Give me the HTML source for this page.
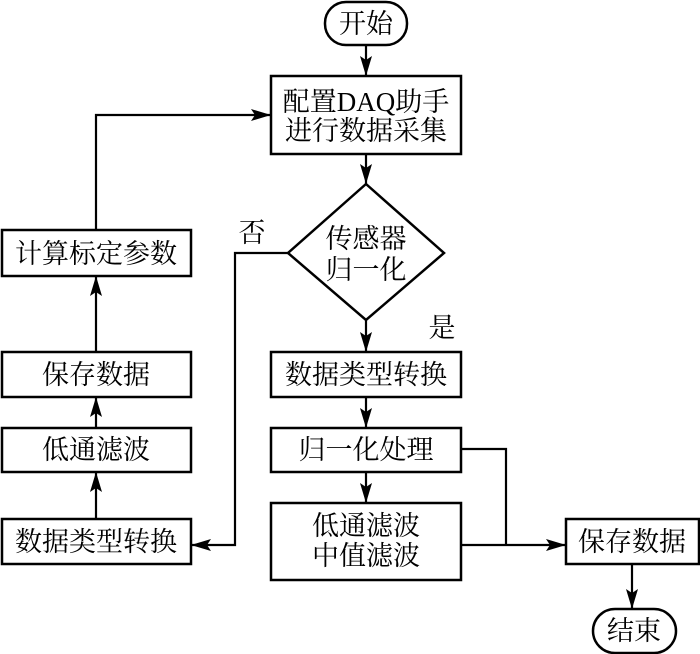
<!DOCTYPE html>
<html><head><meta charset="utf-8"><style>
html,body{margin:0;padding:0;background:#fff;}
svg{display:block;}
text{font-family:"Liberation Serif","Noto Serif CJK SC",serif;font-size:27px;fill:#000;text-anchor:middle;dominant-baseline:central;}
</style></head><body>
<svg width="700" height="654" viewBox="0 0 700 654" xmlns="http://www.w3.org/2000/svg">
<defs><marker id="a" markerWidth="10" markerHeight="10" refX="9" refY="5" orient="auto" markerUnits="userSpaceOnUse"><path d="M0,0 L10,5 L0,10 Z" fill="#000"/></marker>
<marker id="b" viewBox="0 0 20 12" markerWidth="20" markerHeight="12" refX="20" refY="6" orient="auto" markerUnits="userSpaceOnUse"><path d="M0,0 L20,6 L0,12 L4,6 Z" fill="#000"/></marker></defs>
<g fill="none" stroke="#000" stroke-width="2.5">
<rect x="325" y="2" width="82" height="43" rx="21"/>
<rect x="271" y="76" width="190" height="78"/>
<polygon points="366,184 444,253 366,320 288,253"/>
<rect x="271" y="352" width="190" height="45"/>
<rect x="271" y="428" width="190" height="44"/>
<rect x="271" y="503" width="190" height="77"/>
<rect x="566" y="519" width="133" height="45"/>
<rect x="593" y="609" width="83" height="44" rx="22"/>
<rect x="2" y="230" width="189" height="46"/>
<rect x="2" y="352" width="189" height="45"/>
<rect x="2" y="428" width="189" height="44"/>
<rect x="2" y="519" width="189" height="45"/>
</g>
<g fill="none" stroke="#000" stroke-width="2.2">
<line x1="366" y1="45" x2="366" y2="76" marker-end="url(#b)"/>
<line x1="366" y1="154" x2="366" y2="184" marker-end="url(#b)"/>
<line x1="366" y1="320" x2="366" y2="352" marker-end="url(#b)"/>
<line x1="366" y1="397" x2="366" y2="428" marker-end="url(#b)"/>
<line x1="366" y1="472" x2="366" y2="503" marker-end="url(#b)"/>
<line x1="632" y1="564" x2="632" y2="609" marker-end="url(#b)"/>
<polyline points="96,230 96,115 271,115" marker-end="url(#b)"/>
<line x1="96" y1="352" x2="96" y2="276" marker-end="url(#b)"/>
<line x1="96" y1="428" x2="96" y2="397" marker-end="url(#b)"/>
<line x1="96" y1="519" x2="96" y2="472" marker-end="url(#b)"/>
<polyline points="288,253 235,253 235,545 191,545" marker-end="url(#b)"/>
<polyline points="461,449 506,449 506,545"/>
<line x1="461" y1="545" x2="566" y2="545" marker-end="url(#b)"/>
</g>
<text x="366" y="24">开始</text>
<text x="366" y="102">配置DAQ助手</text>
<text x="366" y="131">进行数据采集</text>
<text x="366" y="239">传感器</text>
<text x="366" y="270">归一化</text>
<text x="252" y="233">否</text>
<text x="442" y="328">是</text>
<text x="366" y="375">数据类型转换</text>
<text x="366" y="450">归一化处理</text>
<text x="366" y="526">低通滤波</text>
<text x="366" y="556">中值滤波</text>
<text x="632" y="542">保存数据</text>
<text x="634" y="631">结束</text>
<text x="96" y="254">计算标定参数</text>
<text x="96" y="375">保存数据</text>
<text x="96" y="450">低通滤波</text>
<text x="96" y="542">数据类型转换</text>
</svg>
</body></html>
